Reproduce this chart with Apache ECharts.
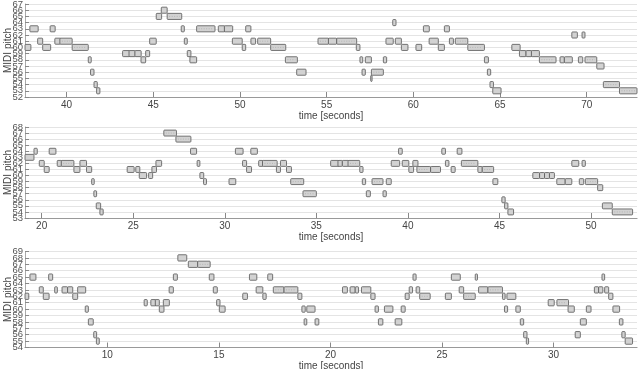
<!DOCTYPE html>
<html>
<head>
<meta charset="utf-8">
<script src="https://cdn.jsdelivr.net/npm/echarts@6/dist/echarts.min.js"></script>
<style>
  html, body { margin: 0; padding: 0; background: #fff; }
  #chart { width: 640px; height: 369px; }
</style>
</head>
<body>
<div id="chart"></div>
<script>
// notes: [start (s), end (s), MIDI pitch]
var notesTop = [
  [37.6, 37.94, 60], [37.88, 38.36, 63], [38.33, 38.62, 61], [38.62, 39.08, 60],
  [39.05, 39.34, 63], [39.32, 39.65, 61], [39.61, 40.32, 61], [40.32, 41.25, 60],
  [41.25, 41.42, 58], [41.38, 41.58, 56], [41.58, 41.77, 54], [41.73, 41.92, 53],
  [43.23, 43.65, 59], [43.6, 43.96, 59], [43.94, 44.3, 59], [44.29, 44.56, 58],
  [44.56, 44.79, 59], [44.79, 45.17, 61], [45.17, 45.48, 65], [45.46, 45.8, 66],
  [45.8, 46.64, 65], [46.61, 46.79, 63], [46.79, 46.96, 61], [46.96, 47.17, 59],
  [47.11, 47.5, 58], [47.5, 48.56, 63], [48.75, 49.13, 63], [49.1, 49.58, 63],
  [49.56, 50.13, 61], [50.13, 50.33, 60], [50.33, 50.63, 63], [50.63, 50.9, 61],
  [51.02, 51.77, 61], [51.77, 52.64, 60], [52.62, 53.31, 58], [53.27, 53.81, 56],
  [54.5, 55.12, 61], [55.1, 55.58, 61], [55.58, 56.73, 61], [56.71, 56.92, 60],
  [56.92, 57.08, 58], [57.04, 57.23, 56], [57.23, 57.58, 58], [57.54, 57.62, 55],
  [57.58, 58.27, 56], [58.27, 58.46, 58], [58.42, 58.84, 61], [58.81, 59.0, 64],
  [58.96, 59.31, 61], [59.31, 59.69, 60], [60.15, 60.48, 60], [60.58, 60.92, 63],
  [60.91, 61.44, 61], [61.44, 61.79, 60], [61.79, 62.08, 63], [62.08, 62.31, 61],
  [62.42, 63.14, 61], [63.14, 64.1, 60], [64.1, 64.33, 58], [64.27, 64.46, 56],
  [64.42, 64.62, 54], [64.58, 65.06, 53], [65.68, 66.16, 60], [66.12, 66.5, 59],
  [66.5, 66.83, 59], [66.81, 67.27, 59], [67.27, 68.23, 58], [68.46, 68.71, 58],
  [68.71, 69.17, 58], [69.14, 69.46, 62], [69.52, 69.77, 58], [69.73, 69.9, 62],
  [69.9, 70.58, 58], [70.58, 71.0, 57], [70.96, 71.89, 54], [71.89, 72.93, 53]
];
var notesMid = [
  [19.09, 19.58, 63], [19.58, 19.76, 64], [19.87, 20.14, 62], [20.14, 20.41, 61],
  [20.41, 20.78, 64], [20.85, 21.09, 62], [21.07, 21.76, 62], [21.76, 22.09, 61],
  [22.09, 22.45, 62], [22.45, 22.73, 61], [22.73, 22.87, 59], [22.85, 23.0, 57],
  [22.98, 23.22, 55], [23.18, 23.36, 54], [24.67, 25.05, 61], [25.14, 25.36, 61],
  [25.33, 25.73, 60], [25.84, 26.06, 60], [26.02, 26.27, 61], [26.24, 26.55, 62],
  [26.67, 27.36, 67], [27.33, 28.15, 66], [28.13, 28.46, 64], [28.49, 28.64, 62],
  [28.64, 28.85, 60], [28.84, 29.0, 59], [30.23, 30.6, 59], [30.58, 31.0, 64],
  [30.97, 31.19, 62], [31.19, 31.46, 61], [31.42, 31.78, 64], [31.85, 32.09, 62],
  [32.06, 32.86, 62], [32.82, 33.04, 61], [33.04, 33.37, 62], [33.37, 33.64, 61],
  [33.6, 34.31, 59], [34.27, 35.0, 57], [35.78, 36.24, 62], [36.18, 36.42, 62],
  [36.42, 36.77, 62], [36.73, 37.37, 62], [37.37, 37.55, 61], [37.51, 37.69, 59],
  [37.73, 37.95, 57], [38.04, 38.64, 59], [38.64, 38.82, 57], [38.82, 39.09, 59],
  [39.09, 39.55, 62], [39.49, 39.69, 64], [39.69, 40.05, 62], [40.05, 40.31, 61],
  [40.27, 40.55, 62], [40.49, 41.24, 61], [41.24, 41.78, 61], [41.85, 42.05, 64],
  [42.05, 42.24, 62], [42.36, 42.58, 61], [42.69, 42.95, 64], [42.92, 43.82, 62],
  [43.82, 44.06, 61], [44.06, 44.68, 61], [44.64, 44.91, 59], [45.13, 45.31, 56],
  [45.28, 45.46, 55], [45.46, 45.77, 54], [46.82, 47.19, 60], [47.19, 47.46, 60],
  [47.46, 47.73, 60], [47.73, 48.0, 60], [48.13, 48.59, 59], [48.59, 48.95, 59],
  [48.95, 49.33, 62], [49.36, 49.6, 59], [49.51, 49.69, 62], [49.69, 50.36, 59],
  [50.36, 50.64, 58], [50.62, 51.16, 55], [51.16, 52.27, 54]
];
var notesBottom = [
  [6.28, 6.48, 62], [6.53, 6.8, 65], [6.95, 7.13, 63], [7.13, 7.39, 62],
  [7.37, 7.55, 65], [7.64, 7.76, 63], [7.97, 8.22, 63], [8.22, 8.45, 63],
  [8.45, 8.67, 62], [8.67, 9.03, 63], [9.01, 9.15, 60], [9.15, 9.37, 58],
  [9.39, 9.52, 56], [9.51, 9.64, 55], [11.65, 11.79, 61], [11.95, 12.18, 61],
  [12.15, 12.33, 61], [12.33, 12.54, 60], [12.51, 12.78, 61], [12.77, 12.96, 63],
  [12.96, 13.14, 65], [13.16, 13.56, 68], [13.63, 14.05, 67], [14.05, 14.61, 67],
  [14.57, 14.78, 65], [14.75, 14.93, 63], [14.9, 15.05, 61], [15.02, 15.28, 60],
  [16.07, 16.28, 62], [16.37, 16.7, 65], [16.67, 16.97, 63], [16.97, 17.12, 62],
  [17.19, 17.41, 65], [17.44, 17.92, 63], [17.92, 18.54, 63], [18.54, 18.72, 62],
  [18.72, 18.87, 60], [18.82, 18.94, 58], [18.94, 19.31, 60], [19.31, 19.48, 58],
  [20.54, 20.76, 63], [20.88, 21.11, 63], [21.11, 21.26, 63], [21.39, 21.81, 63],
  [21.81, 22.0, 62], [22.0, 22.15, 60], [22.15, 22.35, 58], [22.42, 22.8, 60],
  [22.9, 23.2, 58], [23.17, 23.35, 60], [23.35, 23.53, 62], [23.53, 23.68, 63],
  [23.7, 23.84, 65], [23.84, 24.0, 63], [24.0, 24.47, 62], [25.15, 25.42, 62],
  [25.42, 25.82, 65], [25.77, 25.97, 63], [25.97, 26.49, 62], [26.49, 26.59, 65],
  [26.64, 27.06, 63], [27.06, 27.71, 63], [27.71, 27.83, 62], [27.8, 27.94, 60],
  [27.91, 28.31, 62], [28.31, 28.51, 60], [28.51, 28.66, 58], [28.66, 28.81, 56],
  [28.78, 28.88, 55], [29.76, 30.03, 61], [30.15, 30.67, 61], [30.65, 30.93, 60],
  [30.97, 31.2, 56], [31.2, 31.47, 58], [31.47, 31.68, 60], [31.83, 32.02, 63],
  [32.02, 32.21, 63], [32.17, 32.29, 65], [32.29, 32.47, 63], [32.47, 32.66, 62],
  [32.66, 32.96, 60], [32.95, 33.11, 58], [33.06, 33.21, 56], [33.21, 33.54, 55]
];

// tick labels
var timeTicksTop = [40, 45, 50, 55, 60, 65, 70];
var timeTicksMid = [20, 25, 30, 35, 40, 45, 50];
var timeTicksBottom = [10, 15, 20, 25, 30];
var pitchLabelsTop = ['52','53','54','55','56','57','58','59','60','61','62','63','64','65','66','67'];
var pitchLabelsMid = ['53','54','55','56','57','58','59','60','61','62','63','64','65','66','67','68'];
var pitchLabelsBottom = ['54','55','56','57','58','59','60','61','62','63','64','65','66','67','68','69'];
var timeRangeTop = [37.6, 72.9];
var timeRangeMid = [19.09, 52.51];
var timeRangeBottom = [6.31, 33.74];

var font = 'Liberation Sans';

function renderNote(params, api) {
  var p = api.value(2);   // ordinal index on the pitch axis
  var a = api.coord([api.value(0), p]);
  var b = api.coord([api.value(1), p]);
  var h = api.size([0, 1])[1] * 0.98;
  var rect = echarts.graphic.clipRectByRect({
    x: a[0], y: a[1] - h / 2, width: b[0] - a[0], height: h
  }, params.coordSys);
  if (!rect) return;
  var kids = [{
    type: 'rect',
    shape: { x: rect.x, y: rect.y, width: rect.width, height: rect.height, r: 0.8 },
    style: { fill: '#d2d2d2', stroke: '#555', lineWidth: 0.8 }
  }];
  if (rect.width > 10) {
    kids.push({
      type: 'line',
      shape: { x1: rect.x + 2, y1: a[1], x2: rect.x + rect.width - 2, y2: a[1] },
      style: { stroke: '#a0a0a0', lineWidth: 0.6, lineDash: [1, 1.5] }
    });
  }
  return { type: 'group', children: kids };
}

function makeX(idx, range, ticks) {
  return {
    type: 'value', gridIndex: idx, min: range[0], max: range[1],
    name: 'time [seconds]', nameLocation: 'middle', nameGap: 12,
    nameTextStyle: { fontFamily: font, fontSize: 10, color: '#444' },
    axisLine: { show: true, lineStyle: { color: '#999', width: 1.2 } },
    axisTick: { show: true, inside: true, length: 5, customValues: ticks, lineStyle: { color: '#888' } },
    axisLabel: { customValues: ticks, fontFamily: font, fontSize: 10, color: '#444', margin: 3 },
    splitLine: { show: false }
  };
}

function makeY(idx, labels) {
  return {
    type: 'category', gridIndex: idx, data: labels, boundaryGap: false,
    name: 'MIDI pitch', nameLocation: 'middle', nameRotate: 90, nameGap: 12,
    nameMoveOverlap: false,
    nameTextStyle: { fontFamily: font, fontSize: 10, color: '#444' },
    axisLine: { show: true, lineStyle: { color: '#aaa', width: 1 } },
    axisTick: { show: true, inside: true, length: 4, interval: 0, lineStyle: { color: '#888' } },
    axisLabel: { interval: 0, fontFamily: font, fontSize: 9.5, color: '#555', margin: 2 },
    splitLine: { show: true, interval: 0, lineStyle: { color: '#e4e4e4', width: 1 } }
  };
}

function makeSeries(idx, notes) {
  var data = notes.map(function (n) { return [n[0], n[1], String(n[2])]; });
  return {
    type: 'custom', xAxisIndex: idx, yAxisIndex: idx,
    renderItem: renderNote, data: data,
    encode: { x: [0, 1], y: 2 }, silent: true, animation: false
  };
}

var chart = echarts.init(document.getElementById('chart'), null, { renderer: 'canvas' });
chart.setOption({
  animation: false,
  grid: [
    { left: 25, right: 3, top: 4, height: 93, outerBoundsMode: 'none', containLabel: false },
    { left: 25, right: 3, top: 127, height: 91, outerBoundsMode: 'none', containLabel: false },
    { left: 25, right: 3, top: 251.5, height: 96, outerBoundsMode: 'none', containLabel: false }
  ],
  xAxis: [
    makeX(0, timeRangeTop, timeTicksTop),
    makeX(1, timeRangeMid, timeTicksMid),
    makeX(2, timeRangeBottom, timeTicksBottom)
  ],
  yAxis: [
    makeY(0, pitchLabelsTop),
    makeY(1, pitchLabelsMid),
    makeY(2, pitchLabelsBottom)
  ],
  series: [
    makeSeries(0, notesTop),
    makeSeries(1, notesMid),
    makeSeries(2, notesBottom)
  ]
});
</script>
</body>
</html>
